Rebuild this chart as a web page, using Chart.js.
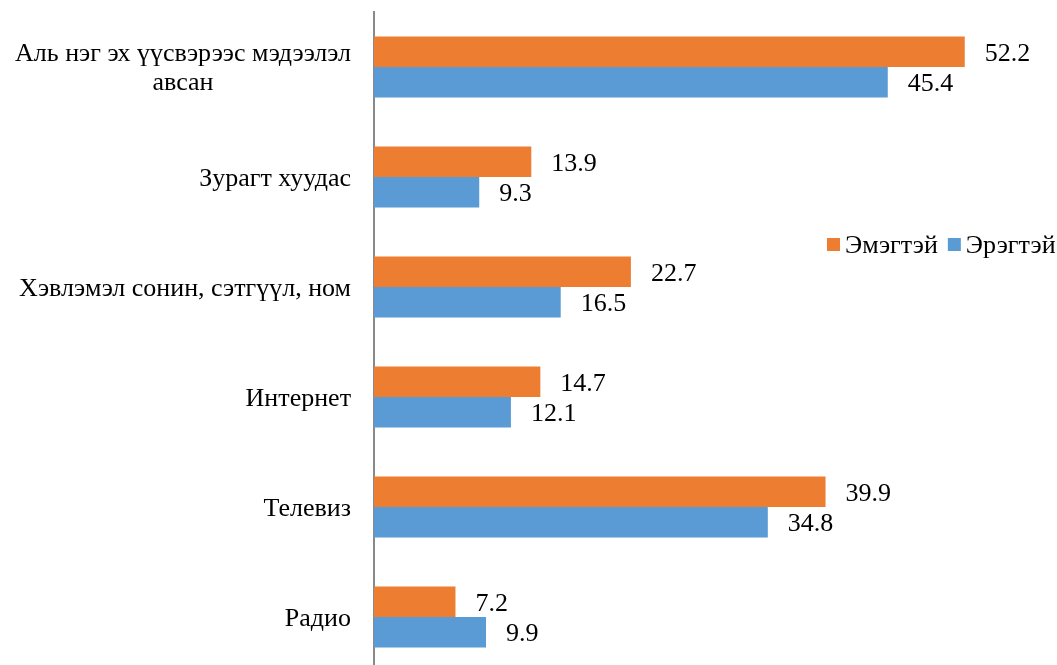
<!DOCTYPE html>
<html>
<head>
<meta charset="utf-8">
<script src="https://cdn.jsdelivr.net/npm/chart.js@4"></script>
<style>
  html, body { margin: 0; padding: 0; background: #fff; overflow: hidden; }
  #wrap { width: 1057px; height: 680px; position: relative; }
</style>
</head>
<body>
<div id="wrap"><canvas id="chart"></canvas></div>
<script>
// categories, top to bottom
const categories = [
  ["Аль нэг эх үүсвэрээс мэдээлэл", "авсан"],
  ["Зурагт хуудас"],
  ["Хэвлэмэл сонин, сэтгүүл, ном"],
  ["Интернет"],
  ["Телевиз"],
  ["Радио"]
];
const seriesNames = ["Эмэгтэй", "Эрэгтэй"];
const women = [52.2, 13.9, 22.7, 14.7, 39.9, 7.2];
const men = [45.4, 9.3, 16.5, 12.1, 34.8, 9.9];

const FONT = "26px 'Liberation Serif', 'Times New Roman', serif";

// value labels next to the bar ends
const valueLabels = {
  id: "valueLabels",
  afterDatasetsDraw(chart) {
    const ctx = chart.ctx;
    ctx.save();
    ctx.font = FONT;
    ctx.fillStyle = "#000";
    ctx.textAlign = "left";
    ctx.textBaseline = "middle";
    chart.data.datasets.forEach((ds, i) => {
      chart.getDatasetMeta(i).data.forEach((bar, j) => {
        ctx.fillText(ds.data[j].toFixed(1), bar.x + 20, bar.y + 2);
      });
    });
    ctx.restore();
  }
};

// category labels: block right-aligned, lines centred (like Excel)
const catLabels = {
  id: "catLabels",
  afterDraw(chart) {
    const ctx = chart.ctx;
    const y = chart.scales.y;
    const right = 351;
    ctx.save();
    ctx.font = FONT;
    ctx.fillStyle = "#000";
    ctx.textAlign = "center";
    ctx.textBaseline = "middle";
    categories.forEach((lines, i) => {
      const w = Math.max(...lines.map(l => ctx.measureText(l).width));
      const cx = right - w / 2;
      const cy = y.getPixelForValue(i);
      const lh = 29;
      lines.forEach((l, k) => {
        ctx.fillText(l, cx, cy + (k - (lines.length - 1) / 2) * lh + 2);
      });
    });
    ctx.restore();
  }
};

// legend floating inside the plot
const floatLegend = {
  id: "floatLegend",
  afterDraw(chart) {
    const ctx = chart.ctx;
    ctx.save();
    ctx.font = FONT;
    ctx.textBaseline = "middle";
    ctx.textAlign = "left";
    let x = 827;
    const cy = 245;
    chart.data.datasets.forEach(ds => {
      ctx.fillStyle = ds.backgroundColor;
      ctx.fillRect(x, cy - 7, 13, 13);
      ctx.fillStyle = "#000";
      ctx.fillText(ds.label, x + 18, cy + 1);
      x += 18 + ctx.measureText(ds.label).width + 10;
    });
    ctx.restore();
  }
};

new Chart(document.getElementById("chart"), {
  type: "bar",
  data: {
    labels: categories.map(c => c.join(" ")),
    datasets: [
      { label: seriesNames[0], data: women, backgroundColor: "#ED7D31" },
      { label: seriesNames[1], data: men, backgroundColor: "#5B9BD5" }
    ]
  },
  options: {
    indexAxis: "y",
    responsive: true,
    maintainAspectRatio: false,
    animation: false,
    categoryPercentage: 0.555,
    barPercentage: 1,
    layout: { padding: { left: 366, top: 12, bottom: 8, right: 4 } },
    scales: {
      x: {
        display: false,
        min: 0,
        max: 60
      },
      y: {
        grid: { display: false },
        border: { display: true, color: "#898989", width: 2 },
        ticks: { display: false }
      }
    },
    plugins: {
      legend: { display: false },
      tooltip: { enabled: false }
    }
  },
  plugins: [valueLabels, catLabels, floatLegend]
});
</script>
</body>
</html>
